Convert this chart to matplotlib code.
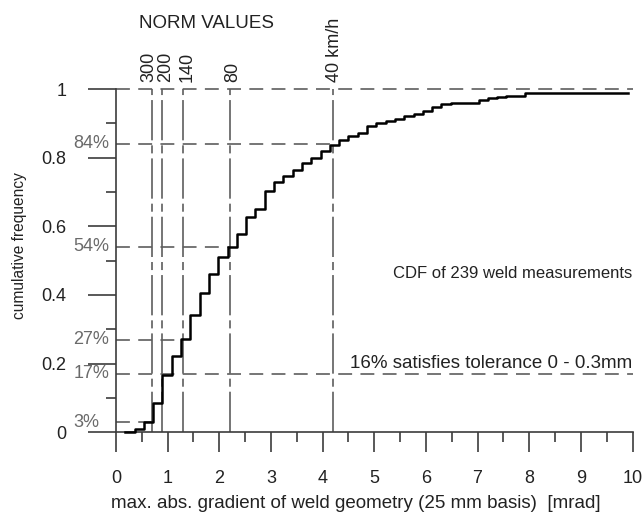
import numpy as np
import matplotlib
matplotlib.use("Agg")
import matplotlib.pyplot as plt

plt.rcParams["font.family"] = ["Liberation Sans", "DejaVu Sans"]
plt.rcParams["lines.scale_dashes"] = False

# step CDF of the weld measurements (x in mrad, level after the step)
cdf_x = [0.18, 0.36, 0.54, 0.72, 0.90, 1.08, 1.26, 1.44, 1.62, 1.80, 1.98,
         2.16, 2.34, 2.52, 2.70, 2.88, 3.06, 3.24, 3.42, 3.60, 3.78, 3.96,
         4.14, 4.32, 4.50, 4.68, 4.86, 5.04, 5.22, 5.40, 5.58, 5.76, 5.94,
         6.12, 6.30, 6.48, 7.02, 7.20, 7.38, 7.56, 7.92, 9.92]
cdf_y = [0.0, 0.009, 0.030, 0.085, 0.167, 0.222, 0.271, 0.343, 0.405, 0.460,
         0.511, 0.540, 0.579, 0.628, 0.651, 0.704, 0.729, 0.748, 0.763, 0.784,
         0.799, 0.818, 0.838, 0.850, 0.862, 0.873, 0.892, 0.902, 0.908, 0.913,
         0.921, 0.928, 0.937, 0.947, 0.955, 0.959, 0.969, 0.974, 0.977, 0.981,
         0.988, 0.988]

# norm gradient limits per speed
norm_x = [0.7, 0.9, 1.3, 2.2, 4.2]
norm_labels = ["300", "200", "140", "80", "40 km/h"]
norm_shift = [-2.4, 2.2, 2.6, 2.2, 1.0]   # label nudge in points

# reference percentiles and where each guide line stops
pct_levels = [0.84, 0.54, 0.27, 0.17, 0.03]
pct_labels = ["84%", "54%", "27%", "17%", "3%"]
pct_stop = [4.2, 2.2, 1.3, 10.0, 0.7]

ytick_vals = [0, 0.2, 0.4, 0.6, 0.8, 1.0]
ytick_labels = ["0", "0.2", "0.4", "0.6", "0.8", "1"]

axcol = "#3c3c3c"
guide = "#5e5e5e"
txt = "#222222"
fs = 13.5

fig = plt.figure(figsize=(6.44, 5.12), dpi=100)
ax = fig.add_axes([116 / 644, (512 - 432.3) / 512, 516.5 / 644, 343.3 / 512])
ax.set_xlim(0, 10)
ax.set_ylim(0, 1)

for s in ["top", "right"]:
    ax.spines[s].set_visible(False)
for s in ["left", "bottom"]:
    ax.spines[s].set_color(axcol)
    ax.spines[s].set_linewidth(1.2)

ax.set_xticks(np.arange(0, 11, 1))
ax.set_xticks(np.arange(0.5, 10, 1), minor=True)
ax.set_yticks(ytick_vals)
ax.set_yticklabels(ytick_labels)
ax.set_yticks(np.arange(0.1, 1.0, 0.2), minor=True)
ax.tick_params(axis="x", which="major", length=14.4, width=1.2, color=axcol,
               pad=13, labelsize=fs - 0.5, labelcolor=txt)
ax.tick_params(axis="x", which="minor", length=7, width=1.2, color=axcol)
ax.tick_params(axis="y", which="major", length=20.2, width=1.2, color=axcol,
               pad=15.5, labelsize=fs - 0.5, labelcolor=txt)
ax.tick_params(axis="y", which="minor", length=7.2, width=1.2, color=axcol)

dash = (0, (10, 6))
dashdot = (0, (29, 3.6, 5.8, 3.6))

# horizontal guides
ax.plot([0, 10], [1, 1], color=guide, lw=1.2, ls=dash, clip_on=False)
for lvl, stop, lab in zip(pct_levels, pct_stop, pct_labels):
    ax.plot([0, stop], [lvl, lvl], color=guide, lw=1.2, ls=dash, clip_on=False)
    ax.text(-0.83, lvl, lab, ha="left", va="center", fontsize=fs - 0.5,
            color="#6a6a6a", clip_on=False)

# vertical norm lines
for xv, lab, sh in zip(norm_x, norm_labels, norm_shift):
    ax.plot([xv, xv], [0, 1], color=guide, lw=1.2, ls=dashdot, clip_on=False)
    ax.annotate(lab, xy=(xv, 1.02), xytext=(sh, 0), textcoords="offset points",
                rotation=90, ha="center", va="bottom", fontsize=fs - 0.5,
                color=txt, annotation_clip=False)

ax.step(cdf_x, cdf_y, where="post", color="black", lw=1.8, zorder=5,
        clip_on=False)

ax.text(1.76, 1.19, "NORM VALUES", ha="center", va="center", fontsize=fs,
        color=txt, clip_on=False)
ax.text(10.0, 0.464, "CDF of 239 weld measurements", ha="right", va="center",
        fontsize=12, color=txt, clip_on=False)
ax.text(10.0, 0.199, "16% satisfies tolerance 0 - 0.3mm", ha="right",
        va="center", fontsize=fs, color=txt, clip_on=False)

fig.text(356 / 644, 4 / 512, "max. abs. gradient of weld geometry (25 mm basis)  [mrad]",
         ha="center", va="baseline", fontsize=fs, color=txt)
fig.text(20 / 644, (512 - 246) / 512, "cumulative frequency", rotation=90,
         ha="center", va="center", fontsize=11.2, color=txt)

fig.savefig("out.png", dpi=100)
